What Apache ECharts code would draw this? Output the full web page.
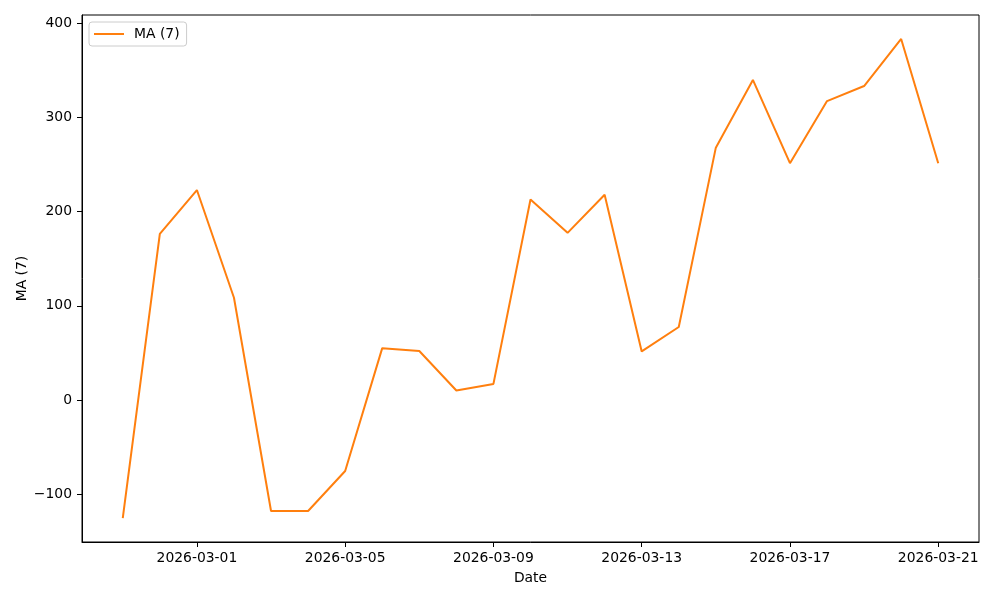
<!DOCTYPE html>
<html>
<head>
<meta charset="utf-8">
<script src="https://cdn.jsdelivr.net/npm/echarts@6/dist/echarts.min.js"></script>
<style>html,body{margin:0;padding:0;background:#fff}#c{width:1000px;height:600px}</style>
</head>
<body>
<div id="c"></div>
<script>
const dates = ["2026-02-27","2026-02-28","2026-03-01","2026-03-02","2026-03-03","2026-03-04","2026-03-05","2026-03-06","2026-03-07","2026-03-08","2026-03-09","2026-03-10","2026-03-11","2026-03-12","2026-03-13","2026-03-14","2026-03-15","2026-03-16","2026-03-17","2026-03-18","2026-03-19","2026-03-20","2026-03-21"];
const maValues = [-125.5, 176.5, 223, 108.5, -118, -118, -75.5, 55, 52, 10, 17, 213, 177.5, 218, 51.5, 77.5, 268, 340, 251.5, 317.5, 333.5, 383.5, 251.5];
const xTickLabels = ["2026-03-01","2026-03-05","2026-03-09","2026-03-13","2026-03-17","2026-03-21"];
const yTicks = [-100, 0, 100, 200, 300, 400];
const seriesName = "MA (7)";

const DAY = 86400000;
const base = Date.UTC(2026, 2, 1);
function dayOffset(s){ const p = s.split('-').map(Number); return (Date.UTC(p[0], p[1]-1, p[2]) - base) / DAY; }
function dayLabel(v){ const d = new Date(base + Math.round(v) * DAY); return d.toISOString().slice(0,10); }
const xs = dates.map(dayOffset);
const xMin = xs[0], xMax = xs[xs.length-1];
const xPad = (xMax - xMin) * 0.05;
const yMinD = Math.min(...maValues), yMaxD = Math.max(...maValues);
const yPad = (yMaxD - yMinD) * 0.05;
const font = 'DejaVu Sans';
const fs = 13.9;
const minus = v => String(v).replace('-', '\u2212');

const chart = echarts.init(document.getElementById('c'), null, {renderer:'canvas'});
chart.setOption({
  animation: false,
  backgroundColor: '#fff',
  textStyle: {fontFamily: font},
  grid: {left: 82, right: 21, top: 15, bottom: 58, show: true, borderColor: '#000', borderWidth: 1, backgroundColor: 'transparent'},
  legend: {
    left: 89, top: 22, orient: 'vertical',
    padding: [5, 7, 5, 5],
    itemWidth: 30, itemHeight: 14, itemGap: 0,
    borderColor: '#cccccc', borderWidth: 1, borderRadius: 3,
    backgroundColor: 'rgba(255,255,255,0.8)',
    textStyle: {fontFamily: font, fontSize: fs, color: '#000', padding: [0,0,0,5]},
    data: [{name: seriesName, icon: 'path://M0,0 L30,0 L30,2 L0,2 Z'}]
  },
  xAxis: {
    type: 'value', min: xMin - xPad, max: xMax + xPad,
    name: 'Date', nameLocation: 'middle', nameGap: 29,
    nameTextStyle: {fontFamily: font, fontSize: fs, color: '#000'},
    axisLine: {show: true, onZero: false, lineStyle: {color: '#000', width: 1}},
    axisTick: {show: true, length: 5, inside: false, lineStyle: {color: '#000'}, customValues: xTickLabels.map(dayOffset)},
    axisLabel: {show: true, margin: 9, fontFamily: font, fontSize: fs, color: '#000', customValues: xTickLabels.map(dayOffset), formatter: v => dayLabel(v), showMinLabel: true, showMaxLabel: true},
    splitLine: {show: false}
  },
  yAxis: {
    type: 'value', min: yMinD - yPad, max: yMaxD + yPad,
    name: seriesName, nameLocation: 'middle', nameGap: 53, nameRotate: 90, nameMoveOverlap: false,
    nameTextStyle: {fontFamily: font, fontSize: fs, color: '#000'},
    axisLine: {show: true, onZero: false, lineStyle: {color: '#000', width: 1}},
    axisTick: {show: true, length: 5, inside: false, lineStyle: {color: '#000'}, customValues: yTicks},
    axisLabel: {show: true, margin: 10, fontFamily: font, fontSize: fs, color: '#000', customValues: yTicks, formatter: v => minus(v)},
    splitLine: {show: false}
  },
  series: [{
    name: seriesName, type: 'line',
    data: xs.map((x, i) => [x, maValues[i]]),
    symbol: 'none', showSymbol: false,
    lineStyle: {color: '#ff7f0e', width: 2},
    itemStyle: {color: '#ff7f0e'}
  }]
});
</script>
</body>
</html>
